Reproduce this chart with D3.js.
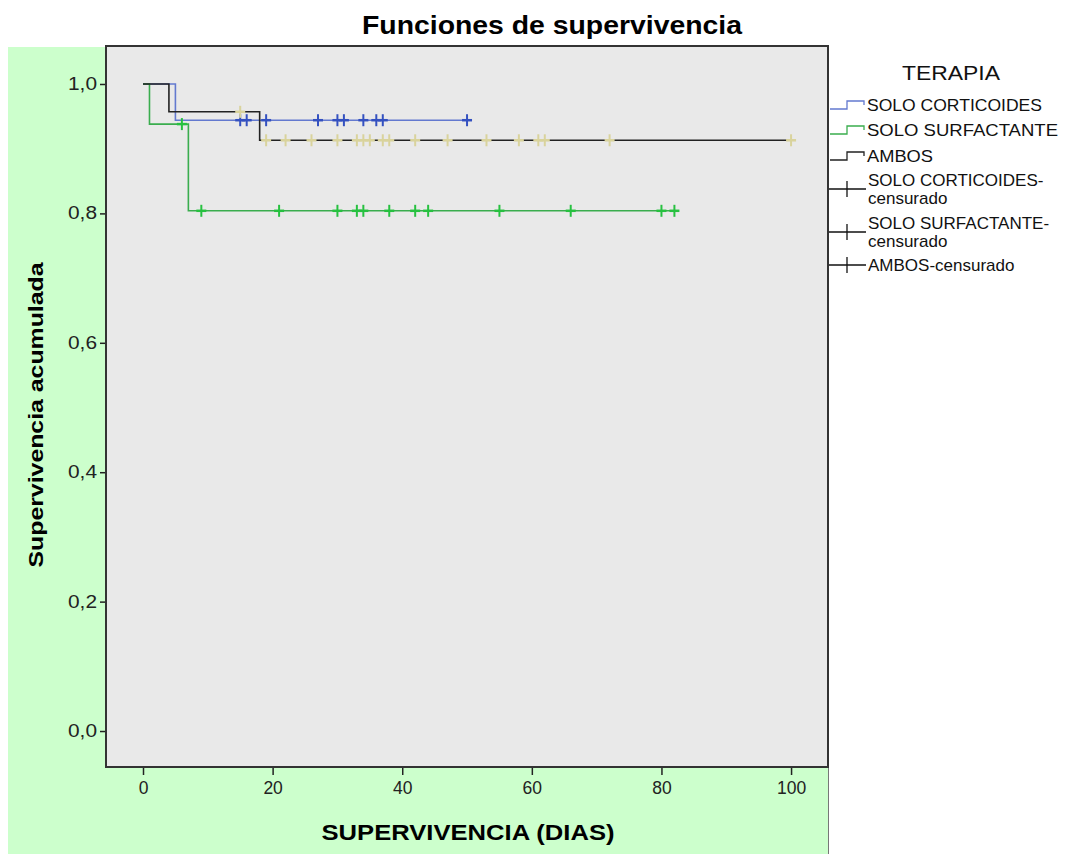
<!DOCTYPE html>
<html>
<head>
<meta charset="utf-8">
<script src="https://cdn.jsdelivr.net/npm/d3@7"></script>
<style>
  body { margin: 0; background: #fff; }
  text { font-family: "Liberation Sans", Arial, sans-serif; }
</style>
</head>
<body>
<div id="chart"></div>
<script>
// Kaplan-Meier steps (time in days, cumulative survival)
const corticoidesSteps = [[0, 1], [5, 0.944]];
const corticoidesEnd = 50;
const corticoidesCensored = [15, 16, 19, 27, 30, 31, 34, 36, 37, 50];

const surfactanteSteps = [[0, 1], [1, 0.938], [7, 0.804]];
const surfactanteEnd = 82;
const surfactanteCensored = [6, 9, 21, 30, 33, 34, 38, 42, 44, 55, 66, 80, 82];

const ambosSteps = [[0, 1], [4, 0.957], [18, 0.913]];
const ambosEnd = 100;
const ambosCensored = [15, 19, 22, 26, 30, 33, 34, 35, 37, 38, 42, 47, 53, 58, 61, 62, 72, 100];

const xTicks = [0, 20, 40, 60, 80, 100];
const yTicks = [0, 0.2, 0.4, 0.6, 0.8, 1.0];

const legendLines = ["SOLO CORTICOIDES", "SOLO SURFACTANTE", "AMBOS"];
const legendCensored = [["SOLO CORTICOIDES-", "censurado"], ["SOLO SURFACTANTE-", "censurado"], ["AMBOS-censurado"]];

const W = 1072, H = 854;
const plot = { left: 106, top: 46, right: 828, bottom: 767 };

const svg = d3.select("#chart")
  .append("svg")
  .attr("width", W)
  .attr("height", H);

// green outer panel
svg.append("rect")
  .attr("x", 8).attr("y", 47)
  .attr("width", 821).attr("height", H - 47)
  .attr("fill", "#ccffcc");

// legend panel border line
svg.append("line")
  .attr("x1", 828.5).attr("x2", 828.5)
  .attr("y1", 46).attr("y2", H)
  .attr("stroke", "#777").attr("stroke-width", 1);

const x = d3.scaleLinear()
  .domain([-5.71, 105.7])
  .range([plot.left, plot.right]);

const y = d3.scaleLinear()
  .domain([-0.0556, 1.0587])
  .range([plot.bottom, plot.top]);

// plot background
svg.append("rect")
  .attr("x", plot.left).attr("y", plot.top)
  .attr("width", plot.right - plot.left).attr("height", plot.bottom - plot.top)
  .attr("fill", "#e9e9e9");

// axes
const yAxis = svg.append("g")
  .attr("transform", `translate(${plot.left},0)`)
  .call(d3.axisLeft(y).tickValues(yTicks).tickSize(6).tickPadding(3)
    .tickFormat(d => d3.format(".1f")(d).replace(".", ",")));
yAxis.select(".domain").remove();

const xAxis = svg.append("g")
  .attr("transform", `translate(0,${plot.bottom})`)
  .call(d3.axisBottom(x).tickValues(xTicks).tickSize(8).tickPadding(7));
xAxis.select(".domain").remove();

svg.selectAll(".tick line").attr("stroke", "#222").attr("stroke-width", 1.5);
svg.selectAll(".tick text")
  .attr("fill", "#222")
  .style("font-size", "17.5px");
yAxis.selectAll(".tick text").attr("textLength", 29).attr("lengthAdjust", "spacingAndGlyphs");

const line = d3.line()
  .x(d => x(d[0]))
  .y(d => y(d[1]))
  .curve(d3.curveStepAfter);

function survAt(steps, t) {
  let s = steps[0][1];
  steps.forEach(d => { if (d[0] <= t) s = d[1]; });
  return s;
}

const groups = [
  { steps: corticoidesSteps, end: corticoidesEnd, cens: corticoidesCensored, line: "#6379cf", mark: "#3451c0" },
  { steps: surfactanteSteps, end: surfactanteEnd, cens: surfactanteCensored, line: "#3aad4e", mark: "#27c140" },
  { steps: ambosSteps, end: ambosEnd, cens: ambosCensored, line: "#222222", mark: "#d9d39c" }
];

groups.forEach(g => {
  const pts = g.steps.concat([[g.end, g.steps[g.steps.length - 1][1]]]);
  svg.append("path")
    .datum(pts)
    .attr("fill", "none")
    .attr("stroke", g.line)
    .attr("stroke-width", 1.6)
    .attr("d", line);
});

groups.forEach(g => {
  const m = svg.append("g");
  g.cens.forEach(t => {
    const cx = x(t), cy = y(survAt(g.steps, t));
    m.append("line")
      .attr("x1", cx).attr("x2", cx)
      .attr("y1", cy - 6).attr("y2", cy + 6)
      .attr("stroke", g.mark).attr("stroke-width", 2);
    m.append("line")
      .attr("x1", cx - 5).attr("x2", cx + 5)
      .attr("y1", cy).attr("y2", cy)
      .attr("stroke", g.mark).attr("stroke-width", 2.5);
  });
});

// frame
svg.append("rect")
  .attr("x", plot.left).attr("y", plot.top)
  .attr("width", plot.right - plot.left).attr("height", plot.bottom - plot.top)
  .attr("fill", "none")
  .attr("stroke", "#333").attr("stroke-width", 2);

// titles
svg.append("text")
  .attr("x", 552).attr("y", 34)
  .attr("text-anchor", "middle")
  .style("font-size", "25px").style("font-weight", "bold")
  .attr("textLength", 380).attr("lengthAdjust", "spacingAndGlyphs")
  .text("Funciones de supervivencia");

svg.append("text")
  .attr("x", 468).attr("y", 840)
  .attr("text-anchor", "middle")
  .style("font-size", "22px").style("font-weight", "bold")
  .attr("textLength", 293).attr("lengthAdjust", "spacingAndGlyphs")
  .text("SUPERVIVENCIA (DIAS)");

svg.append("text")
  .attr("transform", "translate(43,415) rotate(-90)")
  .attr("text-anchor", "middle")
  .style("font-size", "21px").style("font-weight", "bold")
  .attr("textLength", 305).attr("lengthAdjust", "spacingAndGlyphs")
  .text("Supervivencia acumulada");

// legend
const lg = svg.append("g");
lg.append("text")
  .attr("x", 902).attr("y", 80)
  .style("font-size", "20px")
  .attr("fill", "#111")
  .attr("textLength", 98).attr("lengthAdjust", "spacingAndGlyphs")
  .text("TERAPIA");

const stepRowY = [105, 130, 156];
const stepLens = [175, 191, 66];
groups.forEach((g, i) => {
  const yy = stepRowY[i];
  lg.append("path")
    .attr("d", `M830,${yy + 4}H847V${yy - 4}H864V${yy}`)
    .attr("fill", "none")
    .attr("stroke", g.line)
    .attr("stroke-width", 1.3);
  lg.append("text")
    .attr("x", 867).attr("y", yy + 6)
    .style("font-size", "17px")
    .attr("fill", "#111")
    .attr("textLength", stepLens[i]).attr("lengthAdjust", "spacingAndGlyphs")
    .text(legendLines[i]);
});

const censRowY = [189, 232, 265];
legendCensored.forEach((lines, i) => {
  const yy = censRowY[i];
  lg.append("line")
    .attr("x1", 829).attr("x2", 866)
    .attr("y1", yy).attr("y2", yy)
    .attr("stroke", "#111").attr("stroke-width", 1.3);
  lg.append("line")
    .attr("x1", 847).attr("x2", 847)
    .attr("y1", yy - 8).attr("y2", yy + 8)
    .attr("stroke", "#111").attr("stroke-width", 1.3);
  const t = lg.append("text")
    .attr("x", 868)
    .attr("y", yy + 6 - (lines.length - 1) * 9)
    .style("font-size", "17px")
    .attr("fill", "#111");
  lines.forEach((s, j) => {
    t.append("tspan").attr("x", 868).attr("dy", j === 0 ? 0 : 18).text(s);
  });
});
</script>
</body>
</html>
